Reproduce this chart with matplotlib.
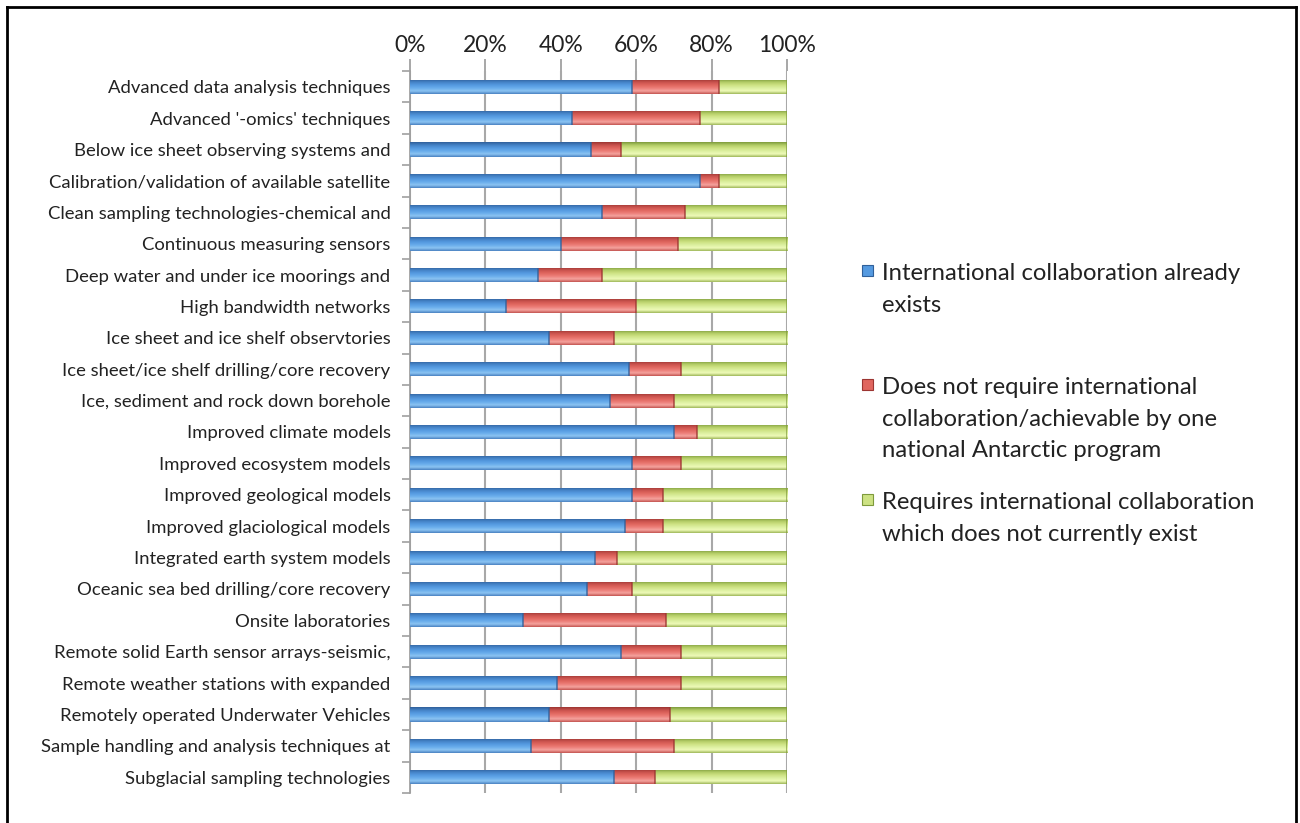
import numpy as np
import matplotlib
matplotlib.use("Agg")
import matplotlib.pyplot as plt
from matplotlib.colors import LinearSegmentedColormap
from matplotlib.patches import Rectangle
from matplotlib.lines import Line2D
from matplotlib.ticker import FixedLocator, PercentFormatter

plt.rcParams['font.family'] = ['Lato', 'DejaVu Sans']

categories = [
    "Advanced data analysis techniques",
    "Advanced '-omics' techniques",
    "Below ice sheet observing systems and",
    "Calibration/validation of available satellite",
    "Clean sampling technologies-chemical and",
    "Continuous measuring sensors",
    "Deep water and under ice moorings and",
    "High bandwidth networks",
    "Ice sheet and ice shelf observtories",
    "Ice sheet/ice shelf drilling/core recovery",
    "Ice, sediment and rock down borehole",
    "Improved climate models",
    "Improved ecosystem models",
    "Improved geological models",
    "Improved glaciological models",
    "Integrated earth system models",
    "Oceanic sea bed drilling/core recovery",
    "Onsite laboratories",
    "Remote solid Earth sensor arrays-seismic,",
    "Remote weather stations with expanded",
    "Remotely operated Underwater Vehicles",
    "Sample handling and analysis techniques at",
    "Subglacial sampling technologies",
]

exists = [59, 43, 48, 77, 51, 40, 34, 25.5, 37, 58, 53, 70,
          59, 59, 57, 49, 47, 30, 56, 39, 37, 32, 54]
not_required = [23, 34, 8, 5, 22, 31, 17, 34.5, 17, 14, 17, 6,
                13, 8, 10, 6, 12, 38, 16, 33, 32, 38, 11]
required_missing = [18, 23, 44, 18, 27, 29, 49, 40, 46, 28, 30, 24,
                    28, 33, 33, 45, 41, 32, 28, 28, 31, 30, 35]

series_labels = [
    "International collaboration already\nexists",
    "Does not require international\ncollaboration/achievable by one\nnational Antarctic program",
    "Requires international collaboration\nwhich does not currently exist",
]

x_ticks = [0, 20, 40, 60, 80, 100]

# shading stops (top -> bottom) for each series, giving the bevelled bar look
shades = [
    ["#4a82c2", "#8cc4f2", "#68aceb", "#559ae0", "#4482c6", "#30609a"],
    ["#c45450", "#f4a39e", "#ec7d77", "#e0665f", "#c9524d", "#9c3532"],
    ["#9fb85a", "#eefab8", "#dcf0a0", "#cde283", "#b2cc66", "#7e9a3c"],
]
base_colors = ["#559ae0", "#e0665f", "#cde283"]

fig = plt.figure(figsize=(13, 8.23), dpi=100)
W, H = 1300, 823
ax = fig.add_axes([410 / W, 1 - 793 / H, 377 / W, (793 - 71) / H])

n = len(categories)
y = np.arange(n)
data = [np.array(exists, float), np.array(not_required, float),
        np.array(required_missing, float)]
totals = data[0] + data[1] + data[2]
fracs = [d / totals * 100 for d in data]

left = np.zeros(n)
for vals, stops, base in zip(fracs, shades, base_colors):
    bars = ax.barh(y, vals, left=left, height=0.45, color=base,
                   edgecolor="none", zorder=3)
    cmap = LinearSegmentedColormap.from_list("shade", stops)
    grad = np.linspace(0, 1, 64).reshape(-1, 1)
    for rect in bars:
        x0, y0 = rect.get_x(), rect.get_y()
        w, h = rect.get_width(), rect.get_height()
        im = ax.imshow(grad, cmap=cmap, aspect="auto", interpolation="bilinear",
                       extent=(x0, x0 + w, y0, y0 + h), origin="upper", zorder=4)
        im.set_clip_path(rect)
        # dark end cap on each segment
        ax.plot([x0 + w, x0 + w], [y0, y0 + h], color=stops[-1], lw=1.2,
                alpha=0.8, zorder=5, solid_capstyle="butt")
    left = left + vals

ax.set_xlim(0, 100)
ax.set_ylim(n - 0.5, -0.5)
ax.xaxis.tick_top()
ax.xaxis.set_major_locator(FixedLocator(x_ticks))
ax.xaxis.set_major_formatter(PercentFormatter(decimals=0))
ax.tick_params(axis="x", which="major", length=9, width=1.3, color="#a0a0a0",
               labelsize=16.5, labelcolor="#222222", pad=2)
ax.set_yticks(y)
ax.set_yticklabels(categories)
ax.yaxis.set_minor_locator(FixedLocator(np.arange(-0.5, n, 1.0)))
ax.tick_params(axis="y", which="major", length=0, labelsize=13.3,
               labelcolor="#222222", pad=14)
ax.tick_params(axis="y", which="minor", length=6, width=1.2, color="#a0a0a0")
ax.grid(axis="x", color="#a8a8a8", lw=1.5, zorder=1)
ax.set_axisbelow(True)
for side in ["top", "right", "bottom"]:
    ax.spines[side].set_visible(False)
ax.spines["left"].set_color("#a0a0a0")
ax.spines["left"].set_linewidth(1.3)

# legend: square swatch aligned with the first line of each entry
legend_tops = [273, 387, 502]
for lab, stops, top in zip(series_labels, shades, legend_tops):
    fig.add_artist(Rectangle((862 / W, 1 - (top + 3) / H), 11 / W, 11 / H,
                             transform=fig.transFigure, facecolor=stops[3],
                             edgecolor=stops[-1], lw=0.8))
    fig.text(882 / W, 1 - (top - 10) / H, lab, ha="left", va="top",
             fontsize=17.2, color="#222222", linespacing=1.62)

# outer frame
for xs, ys in [([7, 7], [7, 823]), ([7, 1296], [7, 7]), ([1296, 1296], [7, 823])]:
    fig.add_artist(Line2D([v / W for v in xs], [1 - v / H for v in ys],
                          transform=fig.transFigure, color="black", lw=2))

fig.savefig("out.png", dpi=100, facecolor="white")
